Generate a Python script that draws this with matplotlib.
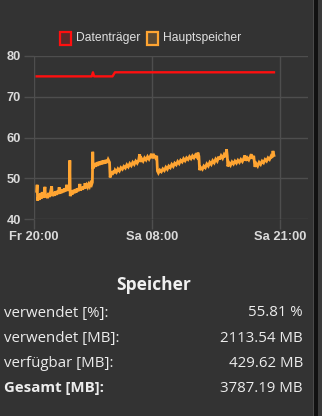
import matplotlib
matplotlib.use("Agg")
import matplotlib.pyplot as plt
from matplotlib.patches import Rectangle

# ---------------- data ----------------
# hours since Fr 20:00
disk_h = [0.32, 5.90, 6.02, 6.14, 8.00, 8.25, 24.35]
disk_v = [75.0, 75.0, 76.0, 75.0, 75.0, 76.0, 76.0]

mem_h = [0.32, 0.37, 0.42, 0.52, 0.60, 0.70, 0.78, 0.88, 0.98, 1.08, 1.16, 1.22, 1.32, 1.42,
         1.52, 1.62, 1.72, 1.84, 1.90, 2.00, 2.10, 2.20, 2.30, 2.40, 2.50, 2.60, 2.66, 2.76,
         2.86, 2.96, 3.06, 3.16, 3.26, 3.36, 3.42, 3.52, 3.62, 3.68, 3.72, 3.82, 3.92, 4.02,
         4.12, 4.22, 4.32, 4.42, 4.52, 4.62, 4.70, 4.76, 4.86, 4.96, 5.06, 5.16, 5.22, 5.28,
         5.38, 5.48, 5.58, 5.68, 5.78, 5.88, 5.96, 6.00, 6.04, 6.14, 6.24, 6.34, 6.44, 6.54,
         6.64, 6.74, 6.84, 6.94, 7.04, 7.14, 7.24, 7.34, 7.44, 7.56, 7.70, 7.76, 7.86, 7.96,
         8.06, 8.16, 8.26, 8.40, 8.55, 8.70, 8.85, 9.00, 9.15, 9.30, 9.45, 9.60, 9.75, 9.90,
         10.05, 10.20, 10.35, 10.50, 10.65, 10.75, 10.82, 10.95, 11.10, 11.25, 11.40, 11.55,
         11.70, 11.85, 11.95, 12.05, 12.20, 12.35, 12.48, 12.55, 12.65, 12.80, 12.95, 13.10,
         13.25, 13.40, 13.55, 13.70, 13.85, 14.00, 14.15, 14.30, 14.45, 14.60, 14.75, 14.90,
         15.05, 15.20, 15.35, 15.50, 15.65, 15.80, 15.95, 16.10, 16.25, 16.40, 16.55, 16.65,
         16.75, 16.82, 16.95, 17.10, 17.25, 17.40, 17.55, 17.70, 17.85, 18.00, 18.15, 18.30,
         18.45, 18.60, 18.75, 18.85, 19.00, 19.15, 19.30, 19.45, 19.55, 19.62, 19.68, 19.80,
         19.95, 20.10, 20.25, 20.40, 20.55, 20.70, 20.85, 21.00, 21.15, 21.30, 21.40, 21.50,
         21.65, 21.80, 21.95, 22.05, 22.15, 22.30, 22.42, 22.55, 22.70, 22.85, 23.00, 23.15,
         23.30, 23.45, 23.60, 23.75, 23.90, 24.05, 24.15, 24.25, 24.35]
mem_v = [46.8, 48.4, 44.5, 45.8, 44.7, 46.3, 45.0, 46.6, 45.2, 46.4, 47.9, 45.3, 46.0, 45.1,
         46.4, 45.4, 46.6, 48.0, 45.6, 46.5, 45.7, 46.8, 45.9, 46.9, 46.1, 47.8, 46.2, 47.1,
         46.4, 47.3, 46.6, 47.5, 46.8, 48.4, 46.9, 47.6, 47.0, 54.4, 45.6, 46.9, 46.0, 47.1,
         46.3, 47.3, 46.5, 47.5, 46.8, 47.6, 48.6, 47.0, 47.8, 47.2, 48.0, 47.4, 48.8, 47.6,
         48.3, 47.8, 48.5, 48.0, 48.8, 48.4, 49.0, 56.5, 52.4, 53.6, 52.8, 53.8, 53.0, 54.0,
         53.2, 54.1, 53.4, 54.3, 53.5, 54.4, 53.6, 54.5, 53.8, 54.6, 53.9, 50.2, 51.6, 50.8,
         51.8, 51.2, 52.0, 51.5, 52.3, 51.8, 52.6, 52.2, 52.9, 52.5, 53.3, 52.8, 53.6, 53.1,
         53.9, 53.4, 54.2, 53.7, 54.5, 55.9, 54.0, 54.8, 54.2, 55.0, 54.5, 55.3,
         54.7, 55.5, 56.0, 54.9, 55.6, 55.0, 55.5, 51.8, 51.3, 52.0, 51.6, 52.3,
         51.9, 52.7, 52.2, 53.0, 52.6, 53.4, 52.9, 53.7, 53.3, 54.1, 53.6, 54.4,
         54.0, 54.8, 54.3, 55.0, 54.6, 55.3, 54.8, 55.5, 55.0, 55.7, 55.2, 56.3,
         55.4, 52.0, 52.6, 52.2, 53.0, 52.6, 53.5, 53.0, 53.9, 53.4, 54.3, 53.8,
         54.7, 54.2, 55.3, 54.6, 55.5, 54.9, 55.8, 55.2, 57.1, 55.5, 52.9, 53.8,
         53.2, 54.0, 53.5, 54.2, 53.7, 54.4, 53.9, 54.6, 54.1, 54.9, 55.6, 54.3,
         55.0, 54.5, 55.3, 55.9, 54.8, 55.5, 52.8, 53.6, 53.0, 53.9, 53.4, 54.2,
         53.8, 54.6, 54.2, 55.0, 54.6, 55.4, 55.0, 56.7, 55.6]

x_ticks = [0, 12, 25]
x_labels = ["Fr 20:00", "Sa 08:00", "Sa 21:00"]
y_ticks = [40, 50, 60, 70, 80]

series_names = ["Datenträger", "Hauptspeicher"]
table_title = "Speicher"
row_labels = ["verwendet [%]:", "verwendet [MB]:", "verfügbar [MB]:", "Gesamt [MB]:"]
row_values = ["55.81 %", "2113.54 MB", "429.62 MB", "3787.19 MB"]

# ---------------- style ----------------
W, H = 322, 416
BG = "#333333"
GRID = "#4e4e4e"
TXT = "#e2e2e2"
RED = "#ff0f0f"
ORANGE = "#ffa532"

def fx(px):
    return px / W

def fy(py):
    return 1 - py / H

fig = plt.figure(figsize=(W / 100, H / 100), dpi=100, facecolor=BG)

# right-hand strip (scrollbar-like edge)
fig.add_artist(Rectangle((fx(313), 0), 1 / W, 1, transform=fig.transFigure,
                         facecolor="#4a4a4a", edgecolor="none"))
fig.add_artist(Rectangle((fx(314), 0), 4 / W, 1, transform=fig.transFigure,
                         facecolor="#111111", edgecolor="none"))
fig.add_artist(Rectangle((fx(318), 0), 4 / W, 1, transform=fig.transFigure,
                         facecolor="#3a3a3a", edgecolor="none"))

left, right, top, bottom = 33.5, 307.5, 56, 219
ax = fig.add_axes([fx(left), fy(bottom), (right - left) / W, (bottom - top) / H])
ax.set_facecolor(BG)
ax.plot(mem_h, mem_v, color=ORANGE, lw=2.0, solid_joinstyle="miter")
ax.plot(disk_h, disk_v, color=RED, lw=1.7)

ax.set_xlim(0, (right - left) / 9.875)
ax.set_ylim(40, 80)
ax.set_xticks(x_ticks)
ax.set_xticklabels(x_labels)
ax.set_yticks(y_ticks)
for s in ax.spines.values():
    s.set_visible(False)
ax.grid(True, color=GRID, lw=1.0)
ax.set_axisbelow(True)
ax.tick_params(axis="both", colors=TXT, color=GRID, length=7, width=1.0)
ax.tick_params(axis="y", pad=2)
ax.tick_params(axis="x", pad=2)
for lab in ax.get_xticklabels() + ax.get_yticklabels():
    lab.set_fontfamily("Liberation Sans")
    lab.set_fontsize(9.3)
    lab.set_fontweight("bold")
    lab.set_color("#dadada")

# legend drawn by hand
def legend_item(x_box, x_text, color, fill, label):
    fig.add_artist(Rectangle((fx(x_box), fy(44.5)), 10.5 / W, 12.5 / H,
                             transform=fig.transFigure, facecolor=fill,
                             edgecolor=color, lw=1.6))
    fig.text(fx(x_text), fy(38.5), label, color="#e0e0e0", fontsize=8.7,
             fontfamily="Liberation Sans", va="center", ha="left")

legend_item(60, 76, RED, "#5a2a2a", series_names[0])
legend_item(147, 162.5, ORANGE, "#5c4a33", series_names[1])

# info table
fig.text(fx(154), fy(285), table_title, color="#f0f0f0", fontsize=12.5,
         fontfamily="Open Sans", fontweight="bold", ha="center", va="center")
row_y = [313, 338.5, 363.5, 388]
for i, (lab, val) in enumerate(zip(row_labels, row_values)):
    w = "bold" if i == 3 else "normal"
    fig.text(fx(3.5), fy(row_y[i]), lab, color="#ececec", fontsize=10.8,
             fontfamily="Open Sans", fontweight=w, ha="left", va="center")
    fig.text(fx(303), fy(row_y[i]), val, color="#ececec", fontsize=10.8,
             fontfamily="Open Sans", ha="right", va="center")

fig.savefig("out.png", dpi=100, facecolor=BG)
